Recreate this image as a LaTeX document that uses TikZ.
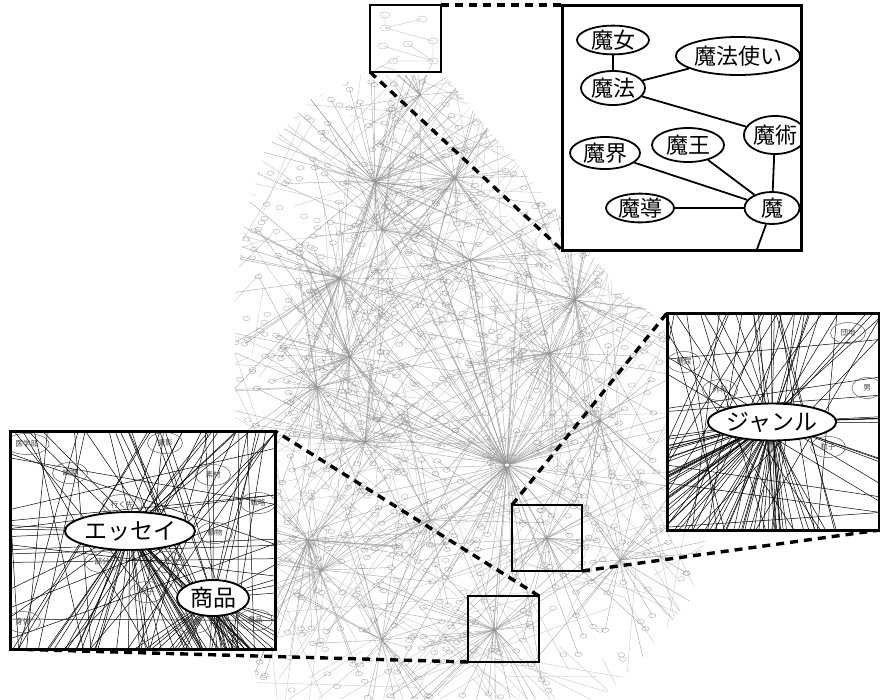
\documentclass[tikz,border=0pt]{standalone}
\usepackage{fontspec}
\newfontfamily\jp{Noto Sans CJK JP}
\usetikzlibrary{shapes.geometric}

\begin{document}
\begin{tikzpicture}[x=1pt,y=-1pt,
  spoke/.style={draw=black!42,line width=0.3pt},
  faint/.style={draw=black!26,line width=0.3pt},
  dotmark/.style={draw=black!42,line width=0.25pt},
  frame/.style={draw=black,line width=3pt},
  zoomlink/.style={draw=black,line width=3.4pt,dash pattern=on 8pt off 6pt},
  bigterm/.style={ellipse,draw=black,line width=1.8pt,fill=white,inner sep=0pt,
    font=\jp\fontsize{22}{22}\selectfont},
  midterm/.style={ellipse,draw=black,line width=1.9pt,fill=white,inner sep=0pt,
    font=\jp\fontsize{23}{23}\selectfont},
  smallterm/.style={ellipse,draw=black!65,line width=0.5pt,inner sep=0pt,
    minimum width=35pt,minimum height=21pt,text=black!75,
    font=\jp\fontsize{7.5}{7.5}\selectfont},
  link/.style={draw=black,line width=1.8pt},
  wire/.style={draw=black,line width=0.5pt}
]
\useasboundingbox (0,0) rectangle (880,699);
\fill[white] (0,0) rectangle (880,699);

%-------------------------------------------------- background network
\pgfmathsetseed{7}
\begin{scope}
  \clip (360,75) -- (445,75) -- (480,120) -- (540,190) -- (580,240) -- (620,290)
    -- (660,320) -- (700,380) -- (705,540) -- (690,600) -- (640,660) -- (600,699)
    -- (260,699) -- (250,650) -- (240,560) -- (235,430) -- (235,300) -- (245,220)
    -- (265,150) -- (310,100) -- cycle;
  % loose edges between far-apart terms
  \foreach \k in {1,...,300}{
    \pgfmathsetmacro\xa{235+470*rnd}
    \pgfmathsetmacro\ya{75+624*rnd}
    \pgfmathsetmacro\ang{360*rnd}
    \pgfmathsetmacro\len{60+220*rnd}
    \draw[faint] (\xa,\ya) -- ++(\ang:\len);
  }
  % hubs and their spokes
  \foreach \hx/\hy/\n/\r [count=\i] in {375/182/45/150, 455/178/40/150, 382/230/25/120,
      340/278/40/140, 470/260/25/130, 350/357/40/140, 317/387/35/130, 575/300/45/170,
      550/353/30/150, 365/442/35/130, 507/465/90/230, 308/540/35/130, 322/570/25/110,
      547/538/30/120, 495/630/35/120, 382/640/25/120, 620/560/25/120, 430/520/20/100,
      600/420/20/110, 420/95/20/80}{
    \coordinate (hub\i) at (\hx,\hy);
    \foreach \s in {1,...,\n}{
      \pgfmathsetmacro\ang{360*rnd}
      \pgfmathsetmacro\len{20+\r*rnd}
      \draw[spoke] (hub\i) -- ++(\ang:\len)
        ellipse [x radius=3.5, y radius=2.2];
    }
  }
  % scattered terms
  \foreach \k in {1,...,320}{
    \pgfmathsetmacro\xa{235+470*rnd}
    \pgfmathsetmacro\ya{75+624*rnd}
    \draw[dotmark] (\xa,\ya) ellipse [x radius=3.5, y radius=2.2];
  }
\end{scope}
\filldraw[fill=white,draw=black!60,line width=0.4pt] (hub11) ellipse [x radius=3, y radius=2];

% miniature of the magnified corner
\begin{scope}[draw=black!30,line width=0.3pt]
  \draw (385,15) -- (385,28) -- (422,19);
  \draw (385,28) -- (433,41) -- (433,61) -- (383,46);
  \draw (408,44) -- (433,61) -- (393,61);
  \draw (433,61) -- (428,72);
  \foreach \px/\py in {385/15, 422/19, 385/28, 433/41, 383/46, 408/44, 393/61, 433/61}
    \draw (\px,\py) ellipse [x radius=5, y radius=3];
  \draw (375,70) -- (400,56); \draw (395,70) -- (380,66);
\end{scope}

%-------------------------------------------------- zoom guides
\draw[zoomlink] (441,5) -- (562,5);
\draw[zoomlink] (370,72) -- (562,250);
\draw[zoomlink] (512,505) -- (667,313);
\draw[zoomlink] (582,571) -- (880,530);
\draw[zoomlink] (539,596) -- (275,431);
\draw[zoomlink] (468,662) -- (10,649);

\draw[frame,line width=2.6pt] (370,5) rectangle (441,72);
\draw[frame,line width=2.6pt] (512,505) rectangle (582,571);
\draw[frame,line width=2.6pt] (468,596) rectangle (539,662);

%-------------------------------------------------- inset: 魔
\begin{scope}
  \clip (562,5) rectangle (801,250);
  \fill[white] (562,5) rectangle (801,250);
  \node[bigterm,minimum width=72pt,minimum height=28pt] (majo) at (613,40) {魔女};
  \node[bigterm,minimum width=122pt,minimum height=38pt] (mahotsukai) at (738,56) {魔法使い};
  \node[bigterm,minimum width=64pt,minimum height=34pt] (maho) at (613,88) {魔法};
  \node[bigterm,minimum width=58pt,minimum height=38pt] (majutsu) at (775,135) {魔術};
  \node[bigterm,minimum width=70pt,minimum height=32pt] (makai) at (605,153) {魔界};
  \node[bigterm,minimum width=72pt,minimum height=34pt] (mao) at (688,145) {魔王};
  \node[bigterm,minimum width=68pt,minimum height=27pt] (mado) at (640,208) {魔導};
  \node[bigterm,minimum width=55pt,minimum height=32pt] (ma) at (772,208) {魔};
  \coordinate (maout) at (756,252);
  \draw[link] (majo) -- (maho);
  \draw[link] (maho) -- (mahotsukai);
  \draw[link] (maho) -- (majutsu);
  \draw[link] (majutsu) -- (ma);
  \draw[link] (makai) -- (ma);
  \draw[link] (mao) -- (ma);
  \draw[link] (mado) -- (ma);
  \draw[link] (ma) -- (maout);
\end{scope}
\draw[frame] (562,5) rectangle (801,250);

%-------------------------------------------------- inset: ジャンル
\begin{scope}
  \clip (667,313) rectangle (880,530);
  \fill[white] (667,313) rectangle (880,530);
  \coordinate (genreC) at (772,422);
  \foreach \k in {1,...,26}{
    \pgfmathsetmacro\ty{425+110*rnd}
    \draw[wire] (genreC) -- (660,\ty);
  }
  \foreach \k in {1,...,26}{
    \pgfmathsetmacro\tx{670+150*rnd}
    \draw[wire] (genreC) -- (\tx,535);
  }
  \foreach \k in {1,...,8}{
    \pgfmathsetmacro\ty{405+60*rnd}
    \draw[wire] (genreC) -- (885,\ty);
  }
  \foreach \k in {1,...,10}{
    \pgfmathsetmacro\tx{700+180*rnd}
    \draw[wire] (genreC) -- (\tx,308);
  }
  \foreach \k in {1,...,32}{
    \pgfmathsetmacro\xa{650+260*rnd}
    \pgfmathsetmacro\xb{620+240*rnd}
    \draw[wire] (\xa,308) -- (\xb,535);
  }
  \foreach \k in {1,...,8}{
    \pgfmathsetmacro\ya{310+220*rnd}
    \pgfmathsetmacro\yb{310+220*rnd}
    \draw[wire] (660,\ya) -- (885,\yb);
  }
  \node[smallterm,minimum width=33pt] (tonyo) at (684,362) {糖尿};
  \node[smallterm] (geka) at (720,390) {外科};
  \node[smallterm] (danchi) at (848,333) {団地};
  \node[smallterm,minimum width=30pt] (otoko) at (867,388) {男};
  \node[smallterm] (ryushi) at (828,447) {粒子};
  \node[midterm,minimum width=126pt,minimum height=37pt] (genre) at (genreC) {ジャンル};
\end{scope}
\draw[frame] (667,313) rectangle (879,530);

%-------------------------------------------------- inset: エッセイ / 商品
\begin{scope}
  \clip (10,431) rectangle (275,649);
  \fill[white] (10,431) rectangle (275,649);
  \coordinate (essayC) at (130,531);
  \coordinate (goodsC) at (213,598);
  \foreach \k in {1,...,30}{
    \pgfmathsetmacro\tx{40+220*rnd}
    \draw[wire] (essayC) -- (\tx,655);
  }
  \foreach \k in {1,...,8}{
    \pgfmathsetmacro\tx{20+240*rnd}
    \draw[wire] (essayC) -- (\tx,425);
  }
  \foreach \k in {1,...,5}{
    \pgfmathsetmacro\ty{500+150*rnd}
    \draw[wire] (essayC) -- (5,\ty);
  }
  \foreach \k in {1,...,22}{
    \pgfmathsetmacro\tx{120+170*rnd}
    \draw[wire] (goodsC) -- (\tx,655);
  }
  \foreach \k in {1,...,10}{
    \pgfmathsetmacro\ty{560+100*rnd}
    \draw[wire] (goodsC) -- (280,\ty);
  }
  \foreach \k in {1,...,6}{
    \pgfmathsetmacro\tx{150+130*rnd}
    \draw[wire] (goodsC) -- (\tx,425);
  }
  \foreach \k in {1,...,32}{
    \pgfmathsetmacro\xa{5+280*rnd}
    \pgfmathsetmacro\xb{5+280*rnd}
    \draw[wire] (\xa,425) -- (\xb,655);
  }
  \foreach \k in {1,...,12}{
    \pgfmathsetmacro\ya{425+230*rnd}
    \pgfmathsetmacro\yb{425+230*rnd}
    \draw[wire] (5,\ya) -- (280,\yb);
  }
  \node[smallterm,minimum width=44pt] (igakubu) at (27,444) {医学部};
  \node[smallterm] (yurei) at (70,473) {幽霊};
  \node[smallterm] (satsuei) at (165,443) {撮影};
  \node[smallterm] (sozai) at (213,475) {素材};
  \node[smallterm] (senryaku) at (258,503) {戦略};
  \node[smallterm,minimum width=40pt] (yukisaki) at (122,505) {行く先};
  \node[smallterm] (dobutsu) at (215,533) {動物};
  \node[smallterm] (bubun) at (102,562) {部分};
  \node[smallterm] (dorama) at (167,562) {ドラマ};
  \node[smallterm] (futago) at (147,592) {双子};
  \node[smallterm] (shintai) at (23,622) {身体};
  \node[smallterm] (zakka) at (193,623) {雑貨};
  \node[smallterm] (shokuhin) at (255,620) {食品};
  \node[midterm,minimum width=128pt,minimum height=38pt] (essay) at (essayC) {エッセイ};
  \node[midterm,minimum width=72pt,minimum height=36pt] (goods) at (goodsC) {商品};
\end{scope}
\draw[frame] (10,431) rectangle (275,649);
\end{tikzpicture}
\end{document}
